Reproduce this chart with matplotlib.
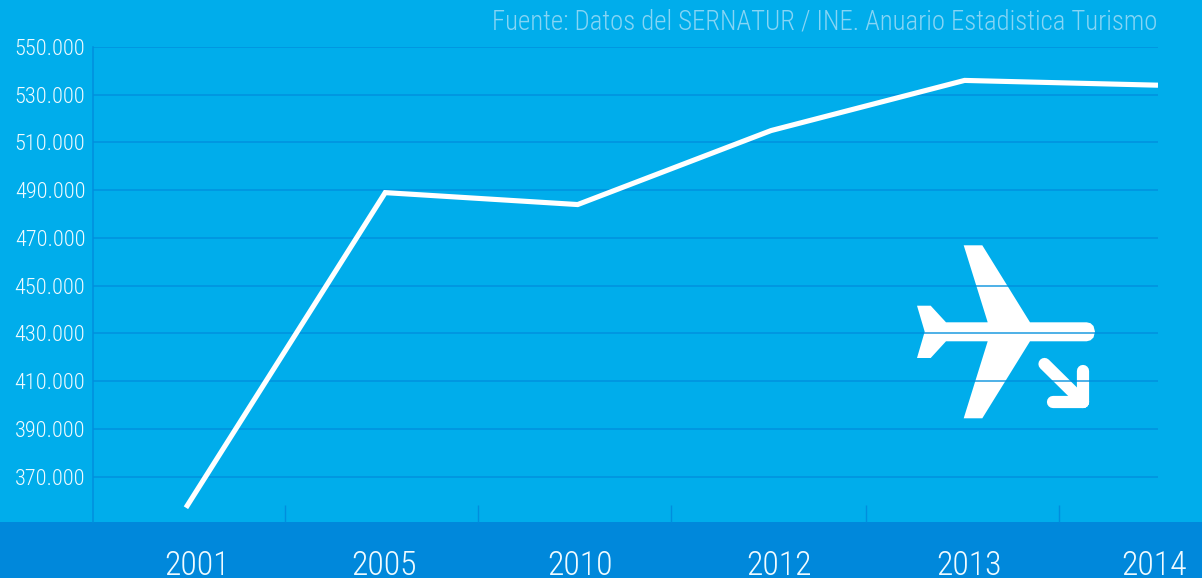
import matplotlib
matplotlib.use("Agg")
import matplotlib.pyplot as plt
from matplotlib import font_manager as fm
from matplotlib.patches import Polygon, Rectangle
from matplotlib.lines import Line2D
from matplotlib.ticker import FixedLocator

years = ["2001", "2005", "2010", "2012", "2013", "2014"]
visitors = [357000, 489000, 484000, 515000, 536000, 534000]
y_ticks = [370000, 390000, 410000, 430000, 450000, 470000, 490000, 510000, 530000, 550000]
source = "Fuente: Datos del SERNATUR / INE. Anuario Estadistica Turismo"

W, H = 1202, 578
BG, BAND, GRID = "#00ADEB", "#0088DB", "#008EDD"

names = {f.name for f in fm.fontManager.ttflist}
family = next((n for n in ["Roboto Condensed", "Liberation Sans Narrow", "Roboto"] if n in names), "DejaVu Sans")
plt.rcParams["font.family"] = [family, "DejaVu Sans"]
plt.rcParams["font.weight"] = "light"

fig = plt.figure(figsize=(W / 100, H / 100), dpi=100, facecolor=BG)
ax = fig.add_axes([93 / W, (H - 522) / H, (1158 - 93) / W, (522 - 47) / H], facecolor="none")

def px(pts):
    return [(x / W, 1 - y / H) for x, y in pts]

fig.patches.append(Rectangle((0, 0), 1, (H - 522) / H, transform=fig.transFigure, color=BAND, lw=0))

plane = [(963.7, 245.3), (982.3, 245.3), (1030, 322.3), (1086.7, 322.3), (1090.5, 323.2), (1093.5, 326),
         (1095, 331.7), (1093.5, 337.5), (1090.5, 340.3), (1086.7, 341.3), (1030, 341.3), (982.3, 418.3),
         (963.7, 418.3), (987.7, 341.3), (946, 341.3), (930.7, 358), (917, 358), (924.7, 331.7),
         (917, 305.7), (930.7, 305.7), (946, 322.3), (987.7, 322.3)]
fig.patches.append(Polygon(px(plane), closed=True, transform=fig.transFigure, color="white", lw=0, zorder=1))
for seg in ([(1044.5, 364), (1083, 402)], [(1052.5, 401.7), (1082.7, 401.7)], [(1082.7, 371), (1082.7, 401.7)]):
    xs, ys = zip(*px(seg))
    fig.add_artist(Line2D(xs, ys, transform=fig.transFigure, color="white", lw=8.8,
                          solid_capstyle="round", solid_joinstyle="round", zorder=1))

x = [0, 1.025, 2.015, 3.01, 4.005, 5]
ax.set_xlim(-0.478, 5.0)
ax.set_ylim(351020, 550000)
ax.set_zorder(3)
ax.patch.set_visible(False)
ax.set_axisbelow(True)
ax.yaxis.grid(True, color=GRID, lw=1.15, alpha=0.85)
ax.plot(x, visitors, color="white", lw=3.7, solid_capstyle="butt", solid_joinstyle="miter", zorder=4)

for s in ("top", "right", "bottom"):
    ax.spines[s].set_visible(False)
ax.spines["left"].set_color(GRID)
ax.spines["left"].set_linewidth(1.1)

ax.set_yticks(y_ticks)
ax.set_yticklabels([f"{v:,}".replace(",", ".") for v in y_ticks], color="#F0FBFF", fontsize=16)
ax.tick_params(axis="y", length=0, pad=5.5)
ax.set_xticks(x)
ax.set_xticklabels([])
ax.tick_params(axis="x", which="major", length=0)
ax.xaxis.set_minor_locator(FixedLocator([0.509, 1.5, 2.495, 3.5, 4.49]))
ax.tick_params(axis="x", which="minor", direction="in", length=12, width=1, color=GRID)

offsets = [11, 4, 5, 10, 5, -4]
for xi, lab, off in zip(range(len(years)), years, offsets):
    ax.annotate(lab, (xi, 351020), xytext=(off * 0.72, -31.5), textcoords="offset points",
                ha="center", va="center", color="#F0FBFF", fontsize=24.3, annotation_clip=False)

fig.text(1157 / W, 1 - 22 / H, source, ha="right", va="center", color="#86D5F5", fontsize=19.3)
fig.savefig("out.png", dpi=100, facecolor=BG)
